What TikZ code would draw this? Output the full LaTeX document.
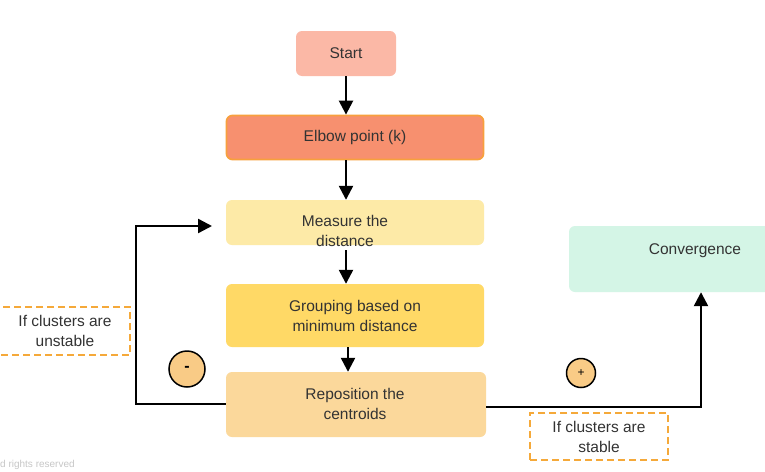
\documentclass[tikz,border=0pt]{standalone}
\usepackage{fontspec}
\setmainfont{Liberation Sans}
\usetikzlibrary{arrows.meta}
\definecolor{startc}{HTML}{FBB8A6}
\definecolor{elbowc}{HTML}{F7906F}
\definecolor{elbowb}{HTML}{F7A03E}
\definecolor{measc}{HTML}{FDEAA7}
\definecolor{groupc}{HTML}{FFD966}
\definecolor{repoc}{HTML}{FBD89B}
\definecolor{convc}{HTML}{D4F5E6}
\definecolor{dashc}{HTML}{F5A93A}
\definecolor{circc}{HTML}{F9CB86}
\definecolor{txtc}{HTML}{333333}
\tikzset{
  box/.style={rounded corners=6pt, draw=none, text=txtc, align=center, inner sep=0pt},
  note/.style={draw=dashc, dashed, dash pattern=on 7pt off 4pt, line width=1.3pt, text=txtc, align=center, inner sep=0pt},
  sign/.style={circle, draw=black, line width=1.5pt, fill=circc, inner sep=0pt},
  flow/.style={line width=2.4pt, -{Triangle[length=14pt,width=14pt]}},
  lbl/.style={font=\fontsize{15.5}{20}\selectfont, text=txtc, align=center}
}
\begin{document}
\begin{tikzpicture}[x=1pt,y=-1pt]
\useasboundingbox (0,0) rectangle (765,471);
\fill[white] (0,0) rectangle (765,471);
% boxes
\node[box, fill=startc, minimum width=100pt, minimum height=45pt] (start) at (346,53.5) {};
\node[lbl] at (start) {Start};
\node[box, fill=elbowc, draw=elbowb, line width=1.8pt, minimum width=257pt, minimum height=44pt] (elbow) at (355,137.5) {};
\node[lbl] at (elbow) {Elbow point (k)};
\node[box, fill=measc, minimum width=258pt, minimum height=45pt] (meas) at (355,222.5) {};
\node[lbl] at (345,231) {Measure the\\distance};
\node[box, fill=groupc, minimum width=258pt, minimum height=63pt] (group) at (355,315.5) {};
\node[lbl] at (group) {Grouping based on\\minimum distance};
\node[box, fill=repoc, minimum width=260pt, minimum height=65pt] (repo) at (356,404.5) {};
\node[lbl] at (355,404) {Reposition the\\centroids};
\node[box, fill=convc, minimum width=210pt, minimum height=66pt] (conv) at (674,259) {};
\node[lbl] at (695,251) {Convergence};
% notes
\node[note, minimum width=140pt, minimum height=48pt] (unst) at (60,331) {};
\node[lbl] at (65,331) {If clusters are\\unstable};
\node[note, minimum width=138pt, minimum height=47pt] (stab) at (599,436.5) {};
\node[lbl] at (stab) {If clusters are\\stable};
% signs
\node[sign, minimum size=36pt] (minus) at (187,369) {};
\node[font=\bfseries\fontsize{16}{16}\selectfont] at (minus) {-};
\node[sign, minimum size=29pt] (plus) at (581,373) {};
\node[font=\fontsize{12}{12}\selectfont] at (plus) {+};
% watermark
\node[anchor=south west, text=black!22, font=\fontsize{10}{10}\selectfont, inner sep=0pt] (wm) at (0,470) {d rights reserved};
% connectors
\coordinate (s1) at (346,76);
\draw[flow] (start.south -| s1) -- (elbow.north -| s1);
\draw[flow] (elbow.south -| s1) -- (meas.north -| s1);
\draw[flow] ([yshift=-5pt]meas.south -| s1) -- (group.north -| s1);
\coordinate (g1) at (348,347);
\draw[flow] (group.south -| g1) -- (repo.north -| g1);
\coordinate (lx) at (136,404);
\coordinate (tip) at (212,226);
\draw[flow] (repo.west |- lx) -- (lx) |- (tip);
\coordinate (rx) at (701,407);
\draw[flow] (repo.east |- rx) -- (rx) -- (conv.south -| rx);
\end{tikzpicture}
\end{document}
